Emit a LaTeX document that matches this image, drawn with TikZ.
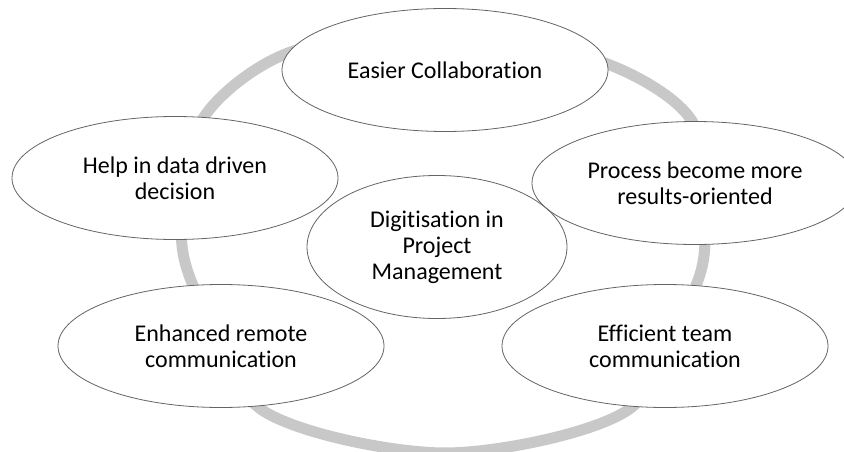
\documentclass[tikz,border=0pt]{standalone}
\usepackage{fontspec}
\setmainfont{Carlito}[Ligatures=NoCommon]
\usetikzlibrary{shapes.geometric}

\definecolor{ringgray}{RGB}{200,200,200}
\definecolor{rimgray}{RGB}{100,100,100}

\begin{document}
\begin{tikzpicture}[x=1pt, y=-1pt,
    every node/.style={ellipse, align=center, inner sep=0pt, font=\fontsize{24}{26}\selectfont},
    bubble/.style={fill=white, minimum width=326pt, minimum height=123pt},
    rim/.style={draw=rimgray, line width=0.8pt},
    ring/.style={draw=ringgray, line width=11pt}]
    \useasboundingbox (0,0) rectangle (844,452);

    % grey loop behind the bubbles
    \draw[ring] plot[smooth cycle] coordinates {(447,25) (610,65) (692,121) (704,215) (697,283) (628,410)
        (445,453) (262,410) (192,283) (182,215) (204,117) (288,53)};

    \node[bubble] (collab) at (445,70) {Easier Collaboration};
    \node[bubble] (data) at (175,178) {Help in data driven\\decision};
    \node[bubble] (results) at (695,183) {Process become more\\results-oriented};
    \node[bubble] (remote) at (221,346) {Enhanced remote\\communication};
    \node[bubble] (team) at (665,346) {Efficient team\\communication};
    \node[bubble, minimum width=260pt, minimum height=143pt] (core) at (437,247) {Digitisation in\\Project\\Management};

    % outlines last, so the overlaps show both rims
    \foreach \n/\rx/\ry in {collab/163/61.5, data/163/61.5, results/163/61.5, remote/163/61.5, team/163/61.5, core/130/71.5}
        \draw[rim] (\n.center) ellipse [x radius=\rx pt, y radius=\ry pt];
\end{tikzpicture}
\end{document}
